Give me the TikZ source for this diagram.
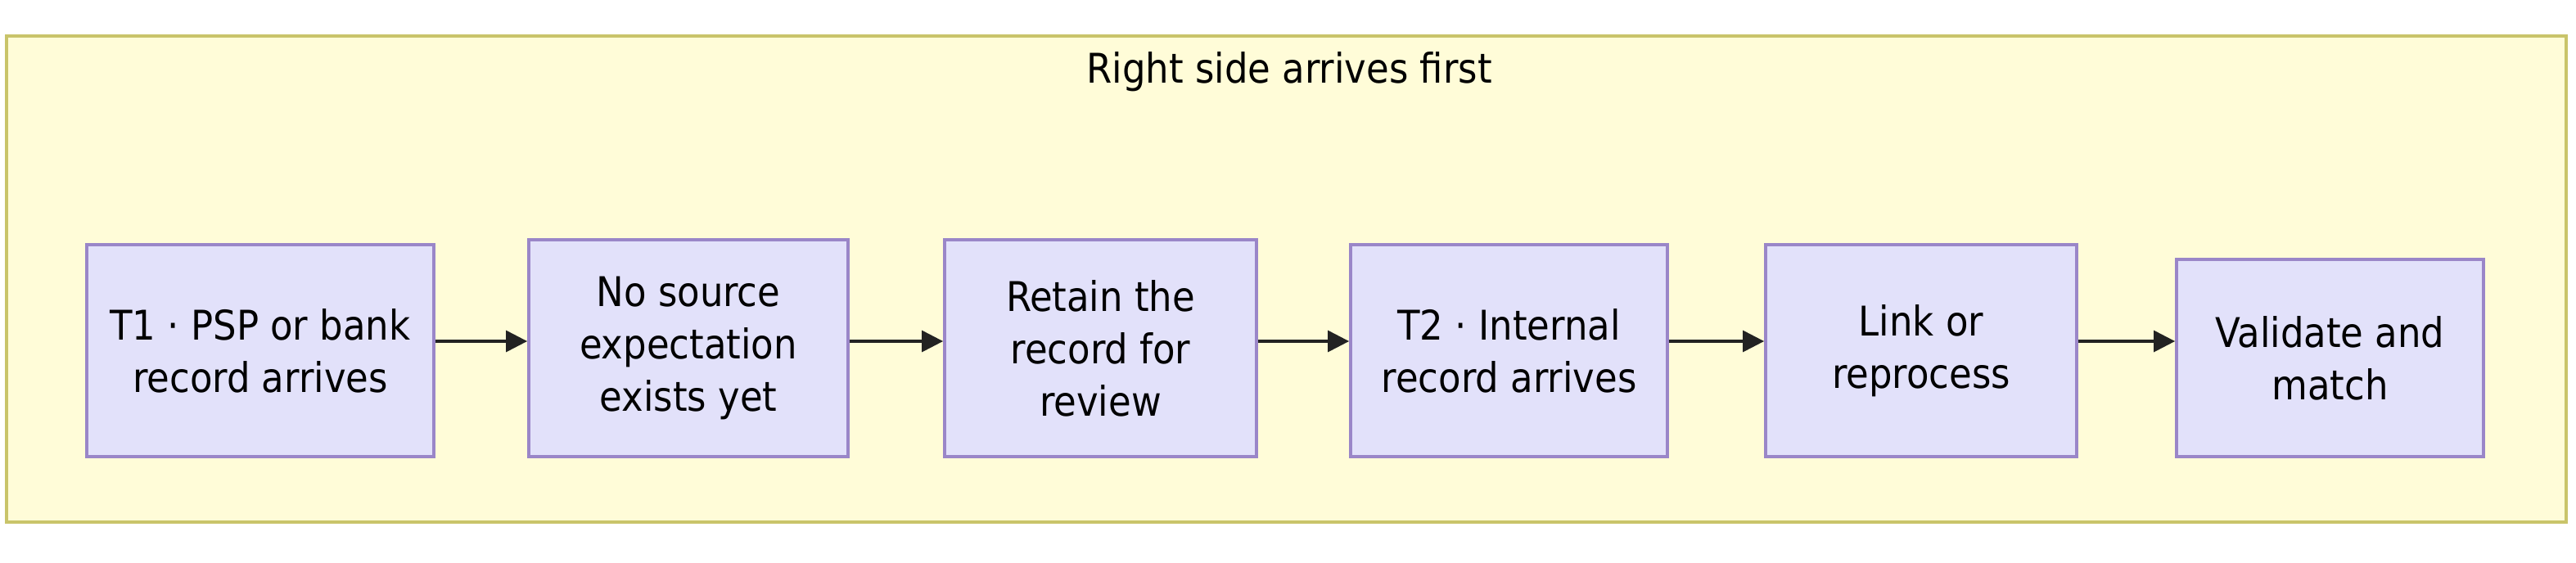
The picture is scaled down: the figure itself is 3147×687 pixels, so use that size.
\documentclass[tikz,border=0pt]{standalone}
\usepackage{fontspec}
\setmainfont{DejaVu Sans Condensed}
\usetikzlibrary{arrows.meta,calc}
\definecolor{clusterfill}{HTML}{FFFCD8}
\definecolor{clusterdraw}{HTML}{C9C46A}
\definecolor{nodefill}{HTML}{E2E1FA}
\definecolor{nodedraw}{HTML}{9A86C8}
\definecolor{edgecol}{HTML}{222222}
\begin{document}
\begin{tikzpicture}[x=0.5pt,y=-0.5pt,
  every node/.style={font=\fontsize{25}{32}\selectfont, text=black},
  stepbox/.style={draw=nodedraw, fill=nodefill, line width=1.9pt, align=center, inner sep=0pt},
  flow/.style={draw=edgecol, line width=1.6pt, -{Triangle[length=13pt,width=13pt]}}]
\useasboundingbox (0,0) rectangle (3147,687);
\fill[white] (0,0) rectangle (3147,687);
\draw[clusterdraw, fill=clusterfill, line width=1.9pt] (8,44) rectangle (3135,638);
\node (title) at (1575,88) {Right side arrives first};
\node[stepbox, minimum width=212pt, minimum height=129.5pt] (n1) at (318,428.5) {T1 · PSP or bank\\record arrives};
\node[stepbox, minimum width=195pt, minimum height=132.5pt] (n2) at (841,425.5) {No source\\expectation\\exists yet};
\node[stepbox, minimum width=190.5pt, minimum height=132.5pt] (n3) at (1344.5,425.5) {Retain the\\record for\\review};
\node[stepbox, minimum width=193.5pt, minimum height=129.5pt] (n4) at (1843.5,428.5) {T2 · Internal\\record arrives};
\node[stepbox, minimum width=190pt, minimum height=129.5pt] (n5) at (2347,428.5) {Link or\\reprocess};
\node[stepbox, minimum width=187.5pt, minimum height=120.5pt] (n6) at (2846.5,437.5) {Validate and\\match};
\coordinate (row) at (0,417);
\draw[flow] (n1.east |- row) -- (n2.west |- row);
\draw[flow] (n2.east |- row) -- (n3.west |- row);
\draw[flow] (n3.east |- row) -- (n4.west |- row);
\draw[flow] (n4.east |- row) -- (n5.west |- row);
\draw[flow] (n5.east |- row) -- (n6.west |- row);
\end{tikzpicture}
\end{document}
